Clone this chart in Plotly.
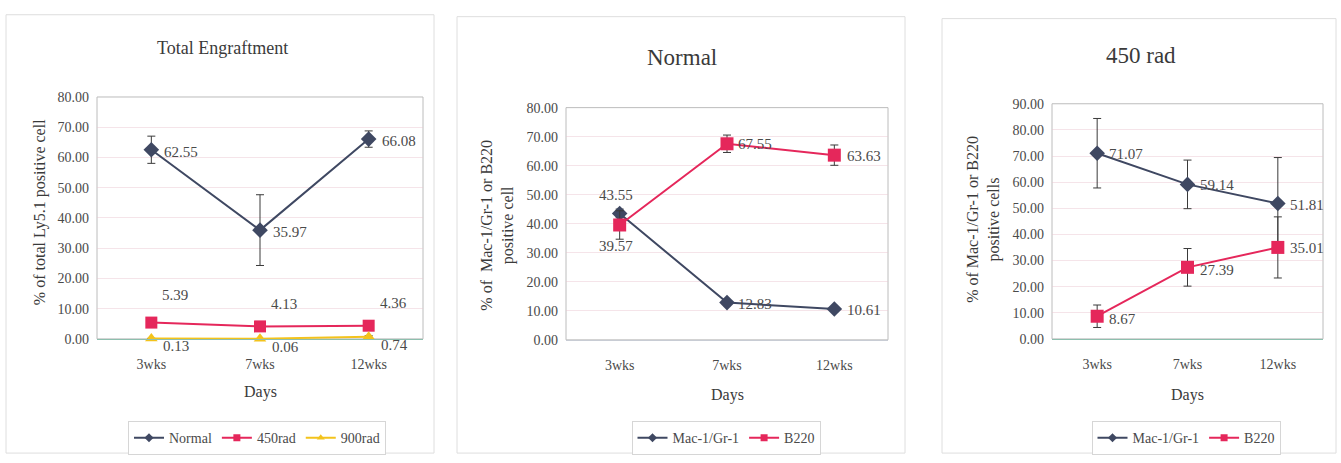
import plotly.graph_objects as go

W, H = 1341, 463

# --- data -------------------------------------------------------------
weeks = ["3wks", "7wks", "12wks"]

# Total engraftment (% of total Ly5.1 positive cells)
total_normal = [62.55, 35.97, 66.08]
total_normal_err = [4.5, 11.7, 2.7]
total_450 = [5.39, 4.13, 4.36]
total_450_err = [0.8, 0.6, 0.7]
total_900 = [0.13, 0.06, 0.74]
total_900_err = [0.05, 0.03, 0.3]

# Normal recipients: lineage split
normal_mac = [43.55, 12.83, 10.61]
normal_mac_err = [1.5, 0.8, 0.8]
normal_b220 = [39.57, 67.55, 63.63]
normal_b220_err = [4.9, 3.0, 3.5]

# 450 rad recipients: lineage split
rad_mac = [71.07, 59.14, 51.81]
rad_mac_err = [13.3, 9.3, 17.6]
rad_b220 = [8.67, 27.39, 35.01]
rad_b220_err = [4.3, 7.2, 11.7]

# --- styling ----------------------------------------------------------
FONT = "Liberation Serif"
TXT = "#4a4a4a"
NAVY = "#3f4862"
RED = "#e5275b"
YELLOW = "#f3c31c"
ERR = "#3a3a3a"


def px(x):
    return x / W


def py(y):
    return 1 - y / H


fig = go.Figure()

panels = [
    # axis suffix, x px range, y px range (top, bottom), y max, x-axis line colour
    dict(sfx="", xr=(97, 423), yr=(93, 343), ymax=80, base="#8dbfae"),
    dict(sfx="2", xr=(566, 888), yr=(104, 344), ymax=80, base="#c8ccd4"),
    dict(sfx="3", xr=(1052, 1323), yr=(100, 343), ymax=90, base="#8dbfae"),
]

for p in panels:
    s = p["sfx"]
    fig.update_layout(**{
        "xaxis" + s: dict(
            domain=[px(p["xr"][0]), px(p["xr"][1])],
            anchor="y" + s,
            type="category",
            range=[-0.5, 2.5],
            showline=True, linecolor=p["base"], linewidth=1,
            showgrid=False, ticks="",
            tickfont=dict(family=FONT, size=14, color=TXT),
            ticklabelstandoff=12,
            fixedrange=True,
        ),
        "yaxis" + s: dict(
            domain=[py(p["yr"][1]), py(p["yr"][0])],
            anchor="x" + s,
            range=[0, p["ymax"]],
            dtick=10,
            tickformat=".2f",
            showgrid=True, gridcolor="rgba(232,196,206,0.45)", gridwidth=1,
            zeroline=False, showline=False, ticks="",
            tickfont=dict(family=FONT, size=14, color=TXT),
            ticklabelstandoff=7,
            fixedrange=True,
        ),
    })
    # plot-area frame
    fig.add_shape(type="rect", xref="x%s domain" % s, yref="y%s domain" % s,
                  x0=0, x1=1, y0=0, y1=1, line=dict(color="#bcbcbc", width=1),
                  layer="below")


def series(name, y, err, color, symbol, size, sfx, legend, dx=11, dy=-2,
           dys=None, dxs=None, anchor="left"):
    fig.add_trace(go.Scatter(
        x=weeks, y=y, name=name, mode="lines+markers",
        xaxis="x" + sfx, yaxis="y" + sfx, showlegend=False,
        line=dict(color=color, width=2),
        marker=dict(symbol=symbol, size=size, color=color),
        error_y=dict(type="data", array=err, color=ERR, thickness=1, width=4),
        cliponaxis=False,
    ))
    # legend entry: thin line with a small marker
    fig.add_trace(go.Scatter(
        x=[None], y=[None], name=name, mode="lines+markers",
        xaxis="x" + sfx, yaxis="y" + sfx, legend=legend,
        line=dict(color=color, width=2),
        marker=dict(symbol=symbol, size=7, color=color),
    ))
    for i, (c, v) in enumerate(zip(weeks, y)):
        fig.add_annotation(
            x=c, y=v, xref="x" + sfx, yref="y" + sfx,
            text="%.2f" % v, showarrow=False,
            xanchor=anchor, yanchor="middle",
            xshift=dxs[i] if dxs else dx,
            yshift=dys[i] if dys else dy,
            font=dict(family=FONT, size=15, color=TXT),
        )


# Panel 1: total engraftment
series("Normal", total_normal, total_normal_err, NAVY, "diamond", 12, "", "legend")
series("450rad", total_450, total_450_err, RED, "square", 12, "", "legend",
       dx=9, dys=[28, 22, 23])
series("900rad", total_900, total_900_err, YELLOW, "triangle-up", 11, "", "legend",
       dx=10, dy=-8)

# Panel 2: normal recipients
series("Mac-1/Gr-1", normal_mac, normal_mac_err, NAVY, "diamond", 12, "2", "legend2",
       dxs=[-4, 9, 11], dys=[18, -1, -1], anchor="left")
series("B220", normal_b220, normal_b220_err, RED, "square", 13, "2", "legend2",
       dxs=[-4, 9, 11], dys=[-21, 0, -1])

# Panel 3: 450 rad recipients
series("Mac-1/Gr-1", rad_mac, rad_mac_err, NAVY, "diamond", 12, "3", "legend3",
       dx=10, dy=-1)
series("B220", rad_b220, rad_b220_err, RED, "square", 13, "3", "legend3",
       dx=10, dys=[-3, -3, -1])

# labels at 3wks in the Normal panel sit centred above / below the points
for a in fig.layout.annotations:
    if a.xref == "x2" and a.x == "3wks":
        a.xanchor = "center"

# --- chart boxes, titles and axis titles --------------------------------
boxes = [(6, 8, 434, 461), (457, 10, 905, 461), (942, 12, 1336, 461)]
for x0, y0, x1, y1 in boxes:
    fig.add_shape(type="rect", xref="paper", yref="paper",
                  x0=px(x0), x1=px(x1), y0=py(y1), y1=py(y0),
                  line=dict(color="#dedede", width=1), layer="below")

texts = [
    ("Total Engraftment", 222, 42, 18, 0),
    ("Normal", 682, 52, 23, 0),
    ("450 rad", 1141, 50, 23, 0),
    ("Days", 260, 398, 16, 0),
    ("Days", 727, 401, 16, 0),
    ("Days", 1187, 401, 16, 0),
    ("% of total Ly5.1 positive cell", 40, 212, 16, -90),
    ("% of  Mac-1/Gr-1 or B220<br>positive cell", 498, 226, 16, -90),
    ("% of Mac-1/Gr-1 or B220<br>positive cells", 984, 220, 16, -90),
]
for t, x, y, size, ang in texts:
    fig.add_annotation(text=t, xref="paper", yref="paper", x=px(x), y=py(y),
                       xanchor="center", yanchor="middle", showarrow=False,
                       textangle=ang,
                       font=dict(family=FONT, size=size, color="#3a3a3a"))

legend_style = dict(
    orientation="h", xanchor="center", yanchor="top", y=py(428),
    bgcolor="white", bordercolor="#d6d6d6", borderwidth=1,
    font=dict(family=FONT, size=14, color=TXT),
    itemwidth=30, tracegroupgap=0,
)
fig.update_layout(
    width=W, height=H,
    margin=dict(l=0, r=0, t=0, b=0),
    font=dict(family=FONT, size=14, color=TXT),
    paper_bgcolor="white", plot_bgcolor="white",
    showlegend=True,
    legend=dict(legend_style, x=px(257)),
    legend2=dict(legend_style, x=px(726)),
    legend3=dict(legend_style, x=px(1186)),
)

fig.write_html("out.html")
